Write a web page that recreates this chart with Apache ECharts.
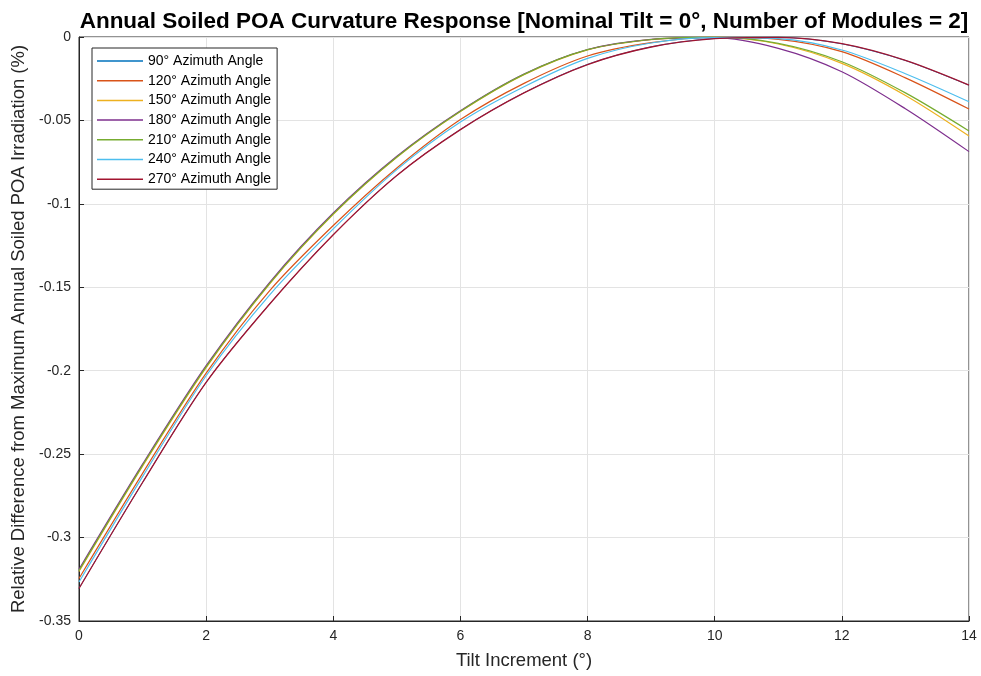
<!DOCTYPE html>
<html>
<head>
<meta charset="utf-8">
<script src="https://cdn.jsdelivr.net/npm/echarts@6/dist/echarts.min.js"></script>
<style>
html,body{margin:0;padding:0;background:#fff;}
#chart{width:981px;height:676px;}
</style>
</head>
<body>
<div id="chart"></div>
<script>
const tilt = [0,1,2,3,4,5,6,7,8,9,10,11,12,13,14];
const seriesNames = ['90° Azimuth Angle','120° Azimuth Angle','150° Azimuth Angle','180° Azimuth Angle','210° Azimuth Angle','240° Azimuth Angle','270° Azimuth Angle'];
const az90  = [-0.3304,-0.2669,-0.2069,-0.1599,-0.1184,-0.0829,-0.0554,-0.0334,-0.0164,-0.0059,-0.0009,-0.0002,-0.0041,-0.0141,-0.0289];
const az120 = [-0.3245,-0.2615,-0.2015,-0.1520,-0.1130,-0.0785,-0.0495,-0.0278,-0.0114,-0.0034,-0.0003,-0.0014,-0.0088,-0.0245,-0.0432];
const az150 = [-0.3203,-0.2572,-0.1981,-0.1479,-0.1063,-0.0721,-0.0447,-0.0226,-0.0077,-0.0016,-0.0001,-0.0042,-0.0158,-0.0350,-0.0593];
const az180 = [-0.3190,-0.2560,-0.1970,-0.1470,-0.1055,-0.0715,-0.0442,-0.0222,-0.0075,-0.0014,-0.0004,-0.0068,-0.0208,-0.0430,-0.0687];
const az210 = [-0.3198,-0.2567,-0.1977,-0.1476,-0.1060,-0.0719,-0.0445,-0.0224,-0.0076,-0.0015,-0.0001,-0.0038,-0.0148,-0.0335,-0.0563];
const az240 = [-0.3266,-0.2635,-0.2030,-0.1545,-0.1150,-0.0795,-0.0510,-0.0298,-0.0128,-0.0036,-0.0004,-0.0010,-0.0078,-0.0220,-0.0388];
const az270 = [-0.3305,-0.2670,-0.2070,-0.1600,-0.1185,-0.0830,-0.0555,-0.0335,-0.0165,-0.0060,-0.0010,-0.0002,-0.0040,-0.0140,-0.0288];
const allValues = [az90, az120, az150, az180, az210, az240, az270];
const colors = ['#0072BD','#D95319','#EDB120','#7E2F8E','#77AC30','#4DBEEE','#A2142F'];

const chart = echarts.init(document.getElementById('chart'), null, {renderer:'canvas'});
const font = 'Liberation Sans, Arial, Helvetica, sans-serif';
const axisColor = '#262626';

const series = seriesNames.map((name, i) => ({
  name: name,
  type: 'line',
  data: tilt.map((t, j) => [t, allValues[i][j]]),
  showSymbol: false,
  smooth: 0.3,
  lineStyle: {width: i === 0 ? 0.9 : (i === 6 ? 1.3 : 1.2), color: colors[i]},
  itemStyle: {color: colors[i]},
  z: 3 + i
}));

chart.setOption({
  animation: false,
  backgroundColor: '#fff',
  title: {
    text: 'Annual Soiled POA Curvature Response [Nominal Tilt = 0°, Number of Modules = 2]',
    left: 519, top: 5, textAlign: 'center',
    textStyle: {fontFamily: font, fontSize: 22.5, fontWeight: 'bold', color: '#000'}
  },
  grid: {left: 79, right: 12, top: 37, bottom: 55, show: true, borderColor: axisColor, borderWidth: 1, containLabel: false},
  legend: {
    orient: 'vertical', left: 92, top: 48,
    data: seriesNames,
    icon: 'rect', itemWidth: 46, itemHeight: 1.5, itemGap: 5.7,
    padding: [6, 6, 3, 5],
    backgroundColor: '#fff', borderColor: axisColor, borderWidth: 1,
    textStyle: {fontFamily: font, fontSize: 14, color: '#000', lineHeight: 14},
    selectedMode: false
  },
  xAxis: {
    type: 'value', min: 0, max: 14, interval: 2,
    name: 'Tilt Increment (°)', nameLocation: 'middle', nameGap: 30,
    nameTextStyle: {fontFamily: font, fontSize: 18.5, color: axisColor},
    axisLine: {show: true, onZero: false, lineStyle: {color: axisColor}},
    axisTick: {show: true, inside: true, length: 5, lineStyle: {color: axisColor}},
    axisLabel: {fontFamily: font, fontSize: 14, color: axisColor, margin: 8},
    splitLine: {show: true, lineStyle: {color: '#e3e3e3', width: 1}}
  },
  yAxis: {
    type: 'value', min: -0.35, max: 0, interval: 0.05,
    name: 'Relative Difference from Maximum Annual Soiled POA Irradiation (%)', nameLocation: 'middle', nameGap: 50,
    nameTextStyle: {fontFamily: font, fontSize: 18.5, color: axisColor},
    axisLine: {show: true, lineStyle: {color: axisColor}},
    axisTick: {show: true, inside: true, length: 5, lineStyle: {color: axisColor}},
    axisLabel: {fontFamily: font, fontSize: 14, color: axisColor, margin: 8,
      formatter: v => String(+v.toFixed(2))},
    splitLine: {show: true, lineStyle: {color: '#e3e3e3', width: 1}}
  },
  series: series
});
</script>
</body>
</html>
